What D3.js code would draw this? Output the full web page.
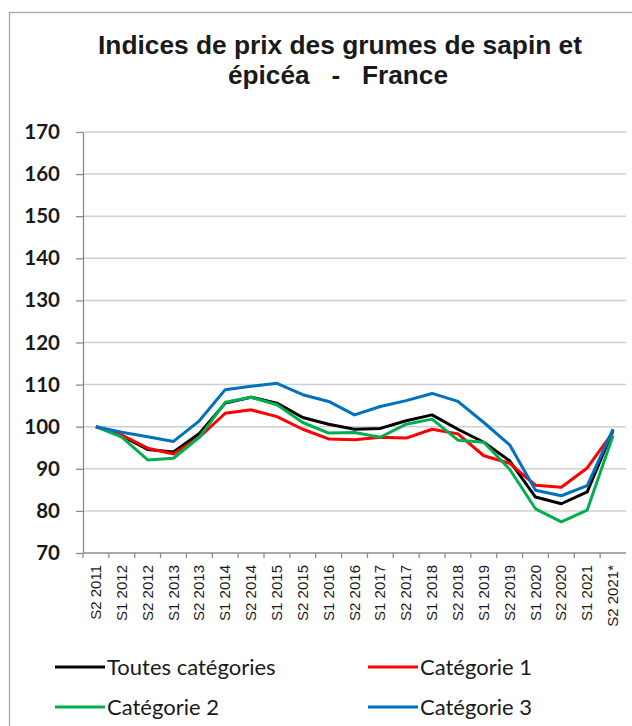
<!DOCTYPE html>
<html>
<head>
<meta charset="utf-8">
<script src="https://cdn.jsdelivr.net/npm/d3@7"></script>
<style>
    body { margin: 0; background: #fff; }
    svg { display: block; }
</style>
</head>
<body>
<svg id="chart"></svg>
<script>
const svgWidth = 632
const svgHeight = 726

const categories = ['S2 2011', 'S1 2012', 'S2 2012', 'S1 2013', 'S2 2013', 'S1 2014', 'S2 2014',
    'S1 2015', 'S2 2015', 'S1 2016', 'S2 2016', 'S1 2017', 'S2 2017', 'S1 2018', 'S2 2018',
    'S1 2019', 'S2 2019', 'S1 2020', 'S2 2020', 'S1 2021', 'S2 2021*']

const toutes = [100, 97.8, 94.6, 94.0, 98.4, 105.6, 107.0, 105.6, 102.2, 100.6, 99.4,
    99.6, 101.4, 102.8, 99.4, 96.3, 91.9, 83.3, 81.7, 84.5, 99.2]
const categorie1 = [100, 98.0, 94.9, 93.5, 97.5, 103.2, 104.0, 102.4, 99.4, 97.1, 96.9,
    97.5, 97.3, 99.4, 98.3, 93.1, 91.3, 86.1, 85.6, 90.2, 98.7]
const categorie2 = [100, 97.5, 92.1, 92.5, 97.5, 105.8, 107.0, 105.2, 101.0, 98.5, 98.6,
    97.5, 100.6, 101.8, 96.8, 96.3, 89.9, 80.5, 77.4, 80.2, 97.9]
const categorie3 = [100, 98.7, 97.6, 96.5, 101.4, 108.8, 109.6, 110.3, 107.6, 106.0, 102.8,
    104.8, 106.2, 107.9, 106.0, 101.0, 95.7, 84.9, 83.6, 86.0, 99.4]

const yTicks = [70, 80, 90, 100, 110, 120, 130, 140, 150, 160, 170]

const seriesNames = ['Toutes catégories', 'Catégorie 1', 'Catégorie 2', 'Catégorie 3']
const seriesColours = ['#000000', '#ff0000', '#00b050', '#0070c0']
const seriesValues = [toutes, categorie1, categorie2, categorie3]

const margin = { left: 83, right: 6, top: 132, bottom: 173 }
const width = svgWidth - margin.left - margin.right
const height = svgHeight - margin.top - margin.bottom

const svg = d3.select('#chart')
    .attr('width', svgWidth)
    .attr('height', svgHeight)

// chart frame
svg.append('rect')
    .attr('x', 9.5)
    .attr('y', 12.5)
    .attr('width', 700)
    .attr('height', 800)
    .attr('fill', 'none')
    .attr('stroke', '#a6a6a6')
    .attr('stroke-width', 1.3)

// title (slightly stretched like the original)
const title = svg.append('g')
    .attr('font-family', 'Liberation Sans, Arial, sans-serif')
    .attr('font-weight', 'bold')
    .attr('font-size', 25)
    .attr('fill', '#1a1a1a')
title.append('text')
    .attr('x', 98).attr('y', 54)
    .attr('textLength', 484)
    .attr('lengthAdjust', 'spacingAndGlyphs')
    .text('Indices de prix des grumes de sapin et')
title.append('text')
    .attr('x', 228).attr('y', 84)
    .attr('textLength', 220)
    .attr('lengthAdjust', 'spacingAndGlyphs')
    .attr('xml:space', 'preserve')
    .text('épicéa   -   France')

const chart = svg.append('g')
    .attr('transform', `translate(${[margin.left, margin.top]})`)

const x = d3.scaleBand()
    .domain(categories)
    .range([0, width])

const y = d3.scaleLinear()
    .domain([70, 170])
    .range([height, 0])

// gridlines
chart.append('g')
    .selectAll('line')
    .data(yTicks.filter(d => d > 70))
    .join('line')
    .attr('x1', 0)
    .attr('x2', width)
    .attr('y1', d => y(d))
    .attr('y2', d => y(d))
    .attr('stroke', '#cfcfcf')
    .attr('stroke-width', 1.5)

// y axis
const yAxis = chart.append('g')
    .call(d3.axisLeft(y).tickValues(yTicks).tickSize(7).tickSizeOuter(0).tickPadding(16))
yAxis.select('.domain').attr('stroke', '#8c8c8c').attr('stroke-width', 1.3)
yAxis.selectAll('.tick line').attr('stroke', '#8c8c8c').attr('stroke-width', 1.3)
yAxis.selectAll('.tick text')
    .attr('font-family', 'Lato, sans-serif')
    .attr('font-weight', 'bold')
    .attr('font-size', 20.5)
    .attr('fill', '#1a1a1a')

// x axis with ticks between categories
const xAxis = chart.append('g')
    .attr('transform', `translate(0, ${height})`)
xAxis.append('line')
    .attr('x1', 0)
    .attr('x2', width)
    .attr('stroke', '#8c8c8c')
    .attr('stroke-width', 1.3)
xAxis.selectAll('line.tick')
    .data(categories)
    .join('line')
    .attr('class', 'tick')
    .attr('x1', d => x(d))
    .attr('x2', d => x(d))
    .attr('y1', 0)
    .attr('y2', 5)
    .attr('stroke', '#8c8c8c')
    .attr('stroke-width', 1.3)
xAxis.selectAll('text')
    .data(categories)
    .join('text')
    .attr('transform', d => `translate(${x(d) + x.bandwidth() / 2 + 5}, 12) rotate(-90)`)
    .attr('text-anchor', 'end')
    .attr('font-family', 'Liberation Sans, Arial, sans-serif')
    .attr('font-size', 15)
    .attr('fill', '#1a1a1a')
    .text(d => d)

// lines
const line = d3.line()
    .x((d, i) => x(categories[i]) + x.bandwidth() / 2)
    .y(d => y(d))

chart.append('g')
    .selectAll('path')
    .data(seriesValues)
    .join('path')
    .attr('d', d => line(d))
    .attr('fill', 'none')
    .attr('stroke', (d, i) => seriesColours[i])
    .attr('stroke-width', 3)
    .attr('stroke-linejoin', 'round')

// legend
const legendPos = [[55, 667], [368, 667], [55, 707], [368, 707]]
const legend = svg.append('g')
    .selectAll('g')
    .data(seriesNames)
    .join('g')
    .attr('transform', (d, i) => `translate(${legendPos[i]})`)
legend.append('line')
    .attr('x1', 0)
    .attr('x2', 50)
    .attr('stroke', (d, i) => seriesColours[i])
    .attr('stroke-width', 3)
legend.append('text')
    .attr('x', 52)
    .attr('dy', '0.35em')
    .attr('font-family', 'Lato, sans-serif')
    .attr('font-size', 22)
    .attr('fill', '#1a1a1a')
    .text(d => d)
</script>
</body>
</html>
